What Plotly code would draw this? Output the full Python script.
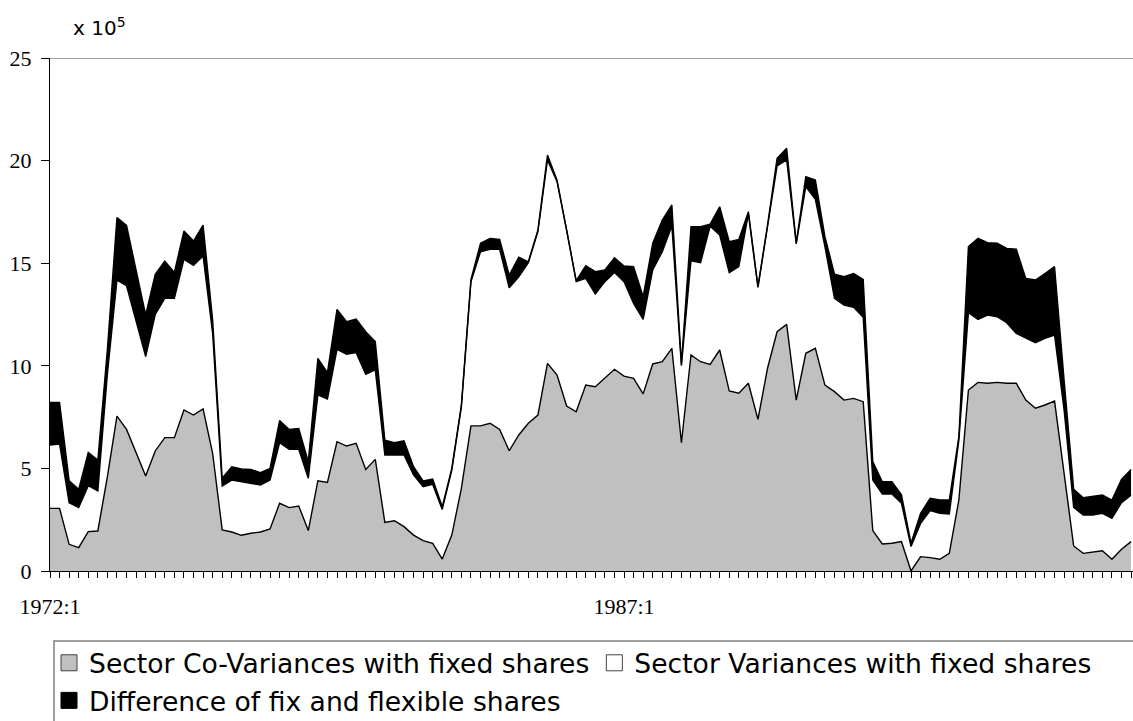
import plotly.graph_objects as go

# Sector co-variances with fixed shares (bottom layer), x 10^5
cov = [3.05, 3.05, 1.30, 1.14, 1.92, 1.95, 4.6, 7.55, 6.90, 5.73, 4.63, 5.85, 6.5, 6.5, 7.85, 7.6,
       7.9, 5.73, 2.0, 1.9, 1.74, 1.84, 1.9, 2.05, 3.3, 3.09, 3.17, 1.97, 4.4, 4.32, 6.3, 6.09,
       6.22, 4.95, 5.44, 2.37, 2.45, 2.16, 1.75, 1.48, 1.35, 0.58, 1.75, 4.03, 7.07, 7.07, 7.2, 6.9,
       5.86, 6.63, 7.2, 7.6, 10.12, 9.55, 8.04, 7.76, 9.06, 8.98, 9.39, 9.83, 9.5, 9.39, 8.63, 10.09,
       10.2, 10.85, 6.25, 10.53, 10.2, 10.07, 10.77, 8.77, 8.66, 9.15, 7.39, 9.88, 11.66, 12.02, 8.33, 10.61,
       10.85, 9.06, 8.74, 8.33, 8.41, 8.25, 1.97, 1.32, 1.35, 1.43, 0.0, 0.7, 0.65, 0.57, 0.86, 3.46,
       8.82, 9.19, 9.15, 9.19, 9.15, 9.15, 8.33, 7.93, 8.09, 8.28, 4.76, 1.22, 0.86, 0.94, 0.99, 0.57,
       1.06, 1.43]

# Sector variances with fixed shares (middle layer)
var = [3.09, 3.14, 2.03, 1.95, 2.24, 1.95, 5.0, 6.63, 7.0, 6.42, 5.82, 6.65, 6.79, 6.79, 7.34, 7.3,
       7.45, 5.85, 2.14, 2.53, 2.61, 2.46, 2.29, 2.38, 2.95, 2.84, 2.76, 2.55, 4.18, 4.06, 4.5, 4.47,
       4.42, 4.63, 4.36, 3.28, 3.2, 3.49, 2.93, 2.63, 2.87, 2.42, 3.17, 3.97, 7.03, 8.49, 8.48, 8.78,
       7.94, 7.71, 7.83, 8.94, 9.91, 9.42, 8.58, 6.34, 5.2, 4.52, 4.71, 4.72, 4.6, 3.65, 3.63, 4.58,
       5.36, 5.96, 3.75, 4.59, 4.83, 6.73, 5.6, 5.77, 6.17, 8.25, 6.43, 6.9, 8.08, 8.01, 7.61, 8.12,
       7.26, 6.75, 4.55, 4.63, 4.44, 4.11, 2.46, 2.43, 2.4, 1.87, 1.19, 1.62, 2.29, 2.24, 1.92, 2.92,
       3.77, 3.07, 3.32, 3.2, 2.95, 2.43, 3.01, 3.2, 3.25, 3.22, 3.09, 1.88, 1.87, 1.79, 1.82, 2.0,
       2.27, 2.27]

# Difference of fix and flexible shares (top layer)
diff = [2.08, 2.03, 1.07, 0.89, 1.62, 1.51, 1.2, 3.04, 2.94, 2.45, 2.03, 1.96, 1.81, 1.26, 1.38, 1.18,
        1.51, 0.65, 0.38, 0.65, 0.62, 0.65, 0.6, 0.57, 1.08, 0.97, 1.02, 0.81, 1.78, 1.29, 1.95, 1.59,
        1.64, 2.08, 1.38, 0.73, 0.6, 0.7, 0.4, 0.28, 0.26, 0.13, 0.08, 0.09, 0.1, 0.41, 0.53, 0.48,
        0.62, 0.95, 0.04, 0.08, 0.24, 0.08, 0.05, 0.05, 0.62, 1.09, 0.57, 0.72, 0.76, 1.79, 1.11, 1.3,
        1.54, 1.03, 0.1, 1.66, 1.75, 0.1, 1.38, 1.51, 1.33, 0.11, 0.04, 0.08, 0.37, 0.57, 0.05, 0.49,
        0.94, 0.48, 1.18, 1.38, 1.65, 1.85, 0.9, 0.6, 0.6, 0.41, 0.16, 0.49, 0.6, 0.65, 0.68, 0.17,
        3.22, 3.95, 3.53, 3.58, 3.62, 4.1, 2.92, 3.05, 3.16, 3.33, 1.46, 0.88, 0.84, 0.92, 0.89, 0.89,
        1.14, 1.25]

quarters = [f"{1972 + k // 4}:{k % 4 + 1}" for k in range(len(cov))]
label_quarters = ["1972:1", "1987:1"]
y_ticks = [0, 5, 10, 15, 20, 25]

names = ["Sector Co-Variances with fixed shares",
         "Sector Variances with fixed shares",
         "Difference of fix and flexible shares"]
fills = ["#C0C0C0", "#FFFFFF", "#000000"]
edge = ["#404040", "#404040", "#000000"]

x = list(range(len(cov)))
fig = go.Figure()
for vals, nm, fc in zip([cov, var, diff], names, fills):
    fig.add_trace(go.Scatter(
        x=x, y=vals, name=nm, stackgroup="s", mode="lines",
        line=dict(color="black", width=1.4, shape="linear"),
        fillcolor=fc, showlegend=False, customdata=quarters,
        hovertemplate="%{customdata}: %{y}<extra>" + nm + "</extra>"))

for nm, fc, ec in zip(names, fills, edge):
    fig.add_trace(go.Scatter(
        x=[None], y=[None], name=nm, mode="markers",
        marker=dict(symbol="square", size=16, color=fc, line=dict(color=ec, width=1))))

W, H = 1133, 721
L, R, T, B = 50, 0, 58, 150
pw, ph = W - L - R, H - T - B

def px_x(p):
    return (p - L) / pw

def px_y(p):
    return (H - B - p) / ph

tick_pos = [quarters.index(q) for q in label_quarters]

fig.update_layout(
    width=W, height=H,
    margin=dict(l=L, r=R, t=T, b=B, pad=0, autoexpand=False),
    paper_bgcolor="white", plot_bgcolor="white",
    showlegend=True,
    legend=dict(orientation="h", x=px_x(49), xanchor="left", y=px_y(639), yanchor="top",
                font=dict(family="DejaVu Sans", size=26.6, color="black"),
                bgcolor="rgba(0,0,0,0)", borderwidth=0, itemwidth=30,
                traceorder="normal", tracegroupgap=0),
    xaxis=dict(range=[0, pw / 9.567], tickmode="array", tickvals=tick_pos, ticktext=label_quarters,
               ticks="outside", ticklen=6, tickcolor="black", tickwidth=1,
               showline=True, linecolor="black", linewidth=1.3,
               showgrid=False, zeroline=False, automargin=False,
               tickfont=dict(family="Liberation Serif", size=22, color="black"),
               ticklabelstandoff=9,
               minor=dict(dtick=1, tick0=0, ticks="outside", ticklen=6, tickcolor="black",
                          tickwidth=1, showgrid=False)),
    yaxis=dict(range=[0, 25], tickmode="array", tickvals=y_ticks,
               ticks="outside", ticklen=8, tickcolor="black", tickwidth=1,
               showline=True, linecolor="black", linewidth=1.3,
               showgrid=False, zeroline=False, automargin=False,
               tickfont=dict(family="Liberation Serif", size=22, color="black"),
               ticklabelstandoff=5),
    shapes=[
        dict(type="line", xref="paper", yref="y", x0=0, x1=1, y0=25, y1=25,
             line=dict(color="#808080", width=1.5)),
        dict(type="rect", xref="paper", yref="paper", x0=px_x(54), x1=px_x(1145),
             y0=px_y(641), y1=px_y(730), line=dict(color="#808080", width=1.5)),
    ],
    annotations=[
        dict(text="x 10<sup>5</sup>", xref="paper", yref="paper", x=px_x(71), y=px_y(27),
             xanchor="left", yanchor="middle", showarrow=False,
             font=dict(family="DejaVu Sans", size=20, color="black")),
    ],
)

fig.write_html("out.html", config={"displayModeBar": False},
               post_script="document.body.style.margin='0';document.body.style.overflow='hidden';")
